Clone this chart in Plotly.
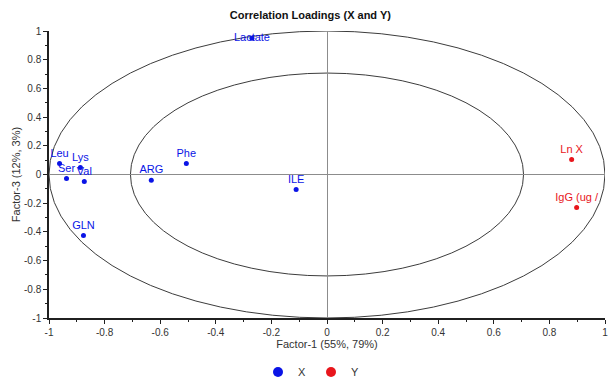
import numpy as np
import plotly.graph_objects as go

# ---- data ----
x_labels = ["Lactate", "Phe", "ARG", "ILE", "Leu", "Lys", "Ser", "Val", "GLN"]
x_f1 = [-0.27, -0.506, -0.632, -0.111, -0.962, -0.887, -0.937, -0.873, -0.876]
x_f3 = [0.95, 0.077, -0.04, -0.105, 0.077, 0.049, -0.028, -0.049, -0.425]

y_labels = ["Ln X", "IgG (ug /"]
y_f1 = [0.88, 0.898]
y_f3 = [0.105, -0.23]

tick_vals = [-1, -0.8, -0.6, -0.4, -0.2, 0, 0.2, 0.4, 0.6, 0.8, 1]
tick_text = ["-1", "-0.8", "-0.6", "-0.4", "-0.2", "0", "0.2", "0.4", "0.6", "0.8", "1"]
inner_r = 0.707

BLUE = "#0a14e6"
RED = "#e8161c"
FONT = "Liberation Sans, Arial"

fig = go.Figure()

x_pos = ["middle center" if l == "Lactate" else "top center" for l in x_labels]

fig.add_trace(go.Scatter(
    x=x_f1, y=x_f3, mode="markers+text", text=x_labels, textposition=x_pos,
    marker=dict(color=BLUE, size=5), textfont=dict(color=BLUE, size=11, family=FONT),
    showlegend=False, cliponaxis=False))
fig.add_trace(go.Scatter(
    x=y_f1, y=y_f3, mode="markers+text", text=y_labels, textposition="top center",
    marker=dict(color=RED, size=5), textfont=dict(color=RED, size=11, family=FONT),
    showlegend=False, cliponaxis=False))

# legend-only entries
fig.add_trace(go.Scatter(x=[None], y=[None], mode="markers", name="X",
                         marker=dict(color=BLUE, size=10)))
fig.add_trace(go.Scatter(x=[None], y=[None], mode="markers", name="Y",
                         marker=dict(color=RED, size=10)))

# circles
for r in [1.0, inner_r]:
    fig.add_shape(type="circle", xref="x", yref="y", x0=-r, x1=r, y0=-r, y1=r,
                  line=dict(color="#3c3c3c", width=1), layer="below")

axis_common = dict(
    range=[-1, 1], tickvals=tick_vals, ticktext=tick_text, automargin=False,
    showgrid=False, zeroline=True, zerolinecolor="#8c8c8c", zerolinewidth=1,
    showline=True, linecolor="#202020", linewidth=1.5,
    ticks="outside", ticklen=4, tickcolor="#202020",
    minor=dict(ticks="outside", ticklen=2, dtick=0.1, tickcolor="#202020", showgrid=False),
    tickfont=dict(size=10, color="#333333", family=FONT),
)

fig.update_layout(
    width=611, height=380,
    margin=dict(l=49, r=6, t=31, b=62, autoexpand=False),
    paper_bgcolor="white", plot_bgcolor="white",
    title=dict(text="<b>Correlation Loadings (X and Y)</b>", x=0.508, xanchor="center",
               xref="container", yref="container", y=1 - 15 / 380, yanchor="middle",
               automargin=False,
               font=dict(size=11, color="#111111", family=FONT)),
    xaxis=dict(axis_common, title=dict(text="Factor-1 (55%, 79%)", standoff=4,
                                       font=dict(size=11, color="#333333", family=FONT))),
    yaxis=dict(axis_common, title=dict(text="Factor-3 (12%, 3%)", standoff=1,
                                       font=dict(size=11, color="#333333", family=FONT))),
    legend=dict(orientation="h", xref="container", yref="container",
                x=0.509, xanchor="center", y=1 - 372 / 380, yanchor="middle",
                font=dict(size=11, color="#333333", family=FONT),
                itemwidth=30),
)

fig.write_html("out.html", config={"displayModeBar": False},
               post_script="document.body.style.margin='0';")
